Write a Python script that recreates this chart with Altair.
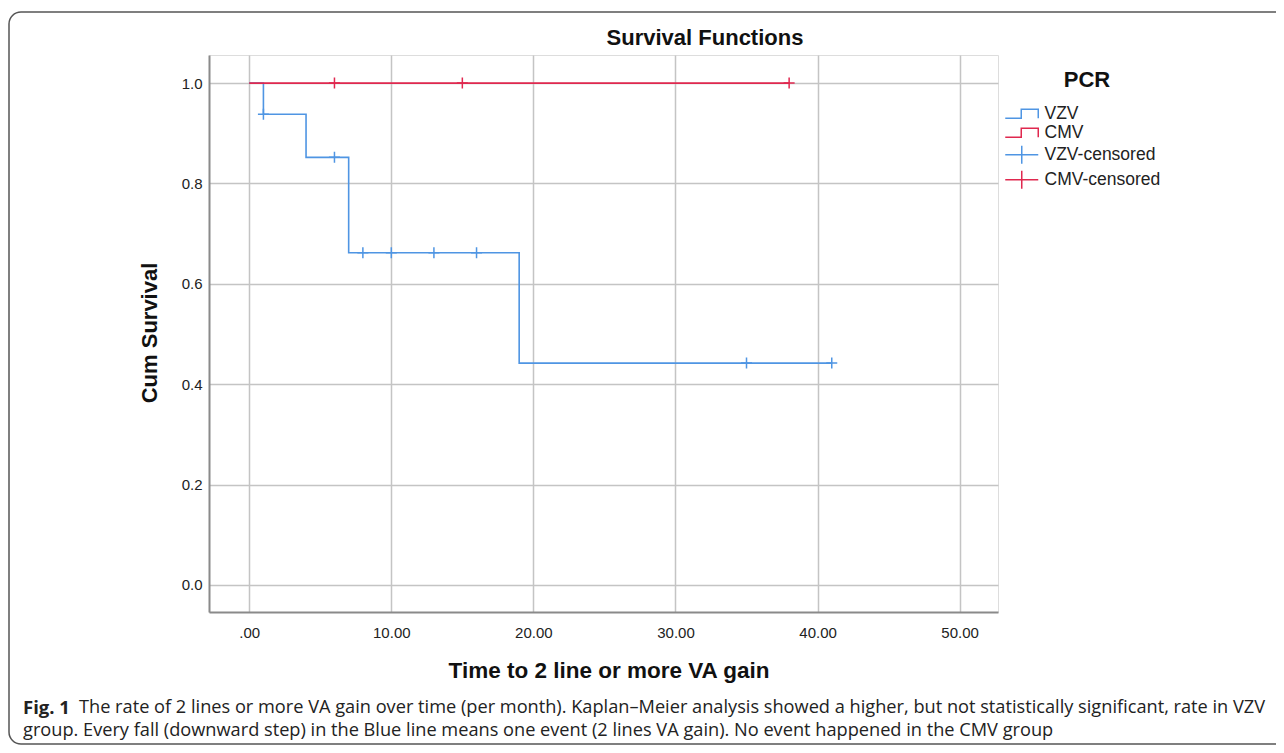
import altair as alt
import pandas as pd

# ---------------- data ----------------
vzv_time = [0, 1, 4, 7, 19, 41]
vzv_surv = [1.0, 0.938, 0.852, 0.662, 0.442, 0.442]
cmv_time = [0, 38]
cmv_surv = [1.0, 1.0]

vzv_cens_time = [1, 6, 8, 10, 13, 16, 35, 41]
vzv_cens_surv = [0.938, 0.852, 0.662, 0.662, 0.662, 0.662, 0.442, 0.442]
cmv_cens_time = [6, 15, 38]
cmv_cens_surv = [1.0, 1.0, 1.0]

series_names = ["VZV", "CMV", "VZV-censored", "CMV-censored"]
x_ticks = [0, 10, 20, 30, 40, 50]
y_ticks = [0.0, 0.2, 0.4, 0.6, 0.8, 1.0]

title_text = "Survival Functions"
x_title = "Time to 2 line or more VA gain"
y_title = "Cum Survival"
cap_bold = "Fig. 1"
cap_line1 = ("The rate of 2 lines or more VA gain over time (per month). Kaplan\u2013Meier analysis "
             "showed a higher, but not statistically significant, rate in VZV")
cap_line2 = ("group. Every fall (downward step) in the Blue line means one event (2 lines VA gain). "
             "No event happened in the CMV group")

# ---------------- tables ----------------
lines_df = pd.concat([
    pd.DataFrame({"t": vzv_time, "s": vzv_surv, "series": "VZV", "order": range(len(vzv_time))}),
    pd.DataFrame({"t": cmv_time, "s": cmv_surv, "series": "CMV", "order": range(len(cmv_time))}),
], ignore_index=True)
cens_df = pd.concat([
    pd.DataFrame({"t": vzv_cens_time, "s": vzv_cens_surv, "series": "VZV-censored"}),
    pd.DataFrame({"t": cmv_cens_time, "s": cmv_cens_surv, "series": "CMV-censored"}),
], ignore_index=True)
legend_df = pd.DataFrame({"series": series_names})

BLUE = "#4f95e3"
RED = "#e0284f"
FONT = "Liberation Sans"
CAP_FONT = "Open Sans"

W, H = 789, 557
PAD_L, PAD_T = 201, 47
TOTAL_W, TOTAL_H = 1268, 737

# legend symbols (size 100 -> 5px per unit)
STEP_PATH = "M-3.3,0.9H-0.1V-0.9H3.3V0.9"
CENS_LEGEND_PATH = "M-3.3,0H3.3M0,-1.8V1.8"
PLUS_PATH = "M-1,0H1M0,-1V1"

color_scale = alt.Scale(domain=series_names, range=[BLUE, RED, BLUE, RED])
shape_scale = alt.Scale(domain=series_names,
                        range=[STEP_PATH, STEP_PATH, CENS_LEGEND_PATH, CENS_LEGEND_PATH])
x_scale = alt.Scale(domain=[-2.83, 52.7], nice=False, zero=False)
y_scale = alt.Scale(domain=[-0.054, 1.056], nice=False, zero=False)

legend = alt.Legend(
    title="PCR", orient="none", legendX=804, legendY=15,
    titleFont=FONT, titleFontSize=22, titleFontWeight="bold", titleColor="#111",
    titleAnchor="middle", titlePadding=13,
    labelFont=FONT, labelFontSize=17.5, labelColor="#222", labelOffset=14,
    symbolSize=100, symbolStrokeWidth=1.5, symbolOpacity=1,
    symbolFillColor="transparent", rowPadding=0, padding=0,
)

x_axis = alt.Axis(values=x_ticks, title=None, grid=True, ticks=False, tickSize=0,
                  labelExpr="datum.value == 0 ? '.00' : format(datum.value, '.2f')",
                  labelFont=FONT, labelFontSize=15, labelColor="#222", labelPadding=13,
                  domainColor="#8a8a8a", domainWidth=2, gridColor="#c4c4c4", gridWidth=1.5)
y_axis = alt.Axis(values=y_ticks, title=None, grid=True, ticks=False, tickSize=0, format=".1f",
                  labelFont=FONT, labelFontSize=15, labelColor="#222", labelPadding=7,
                  domainColor="#8a8a8a", domainWidth=2, gridColor="#c4c4c4", gridWidth=1.5)

base_x = alt.X("t:Q", scale=x_scale, axis=x_axis)
base_y = alt.Y("s:Q", scale=y_scale, axis=y_axis)

# frame around the figure
frame = alt.Chart(legend_df.head(1)).mark_rect(
    fill=None, stroke="#555555", strokeWidth=1.5, cornerRadius=12, clip=False
).encode(
    x=alt.value(-PAD_L + 1), x2=alt.value(TOTAL_W - PAD_L + 20),
    y=alt.value(-PAD_T + 4), y2=alt.value(TOTAL_H - PAD_T - 1),
)

legend_layer = alt.Chart(legend_df).mark_point(filled=False, opacity=0).encode(
    x=alt.value(0), y=alt.value(0),
    color=alt.Color("series:N", scale=color_scale, legend=legend, sort=series_names),
    shape=alt.Shape("series:N", scale=shape_scale, legend=legend, sort=series_names),
)

vzv_line = alt.Chart(lines_df[lines_df.series == "VZV"]).mark_line(
    interpolate="step-after", strokeWidth=1.6
).encode(x=base_x, y=base_y, order="order:Q",
         color=alt.Color("series:N", scale=color_scale, legend=legend, sort=series_names))

cmv_line = alt.Chart(lines_df[lines_df.series == "CMV"]).mark_line(
    interpolate="step-after", strokeWidth=1.6
).encode(x=base_x, y=base_y, order="order:Q",
         color=alt.Color("series:N", scale=color_scale, legend=legend, sort=series_names))

cens = alt.Chart(cens_df).mark_point(
    shape=PLUS_PATH, size=121, filled=False, strokeWidth=1.5, opacity=1
).encode(x=base_x, y=base_y,
         color=alt.Color("series:N", scale=color_scale, legend=legend, sort=series_names))

def text_layer(txt, x, y, size, weight="normal", font=FONT, angle=0, align="center", color="#111"):
    kw = dict(text=txt, fontSize=size, fontWeight=weight, font=font, align=align,
              baseline="middle", color=color, clip=False)
    if angle:
        kw["angle"] = angle
    return alt.Chart(legend_df.head(1)).mark_text(**kw).encode(x=alt.value(x), y=alt.value(y))

title_l = text_layer(title_text, 496, -17, 22, "bold")
xtitle_l = text_layer(x_title, 400, 616, 22.5, "bold")
ytitle_l = text_layer(y_title, -59, 278, 22, "bold", angle=270)
cap_b = text_layer(cap_bold, -186, 653, 18.5, "bold", font=CAP_FONT, align="left", color="#222")
cap_1 = text_layer(cap_line1, -130, 653, 18.2, "normal", font=CAP_FONT, align="left", color="#222")
cap_2 = text_layer(cap_line2, -186, 676, 18.2, "normal", font=CAP_FONT, align="left", color="#222")

chart = alt.layer(
    frame, legend_layer, vzv_line, cmv_line, cens,
    title_l, xtitle_l, ytitle_l, cap_b, cap_1, cap_2,
).properties(
    width=W, height=H,
    autosize=alt.AutoSizeParams(type="none"),
    padding={"left": PAD_L, "top": PAD_T, "right": TOTAL_W - PAD_L - W, "bottom": TOTAL_H - PAD_T - H},
).configure_view(stroke=None).configure(background="white")

chart.save("out.html", embed_options={"renderer": "svg", "actions": False})
